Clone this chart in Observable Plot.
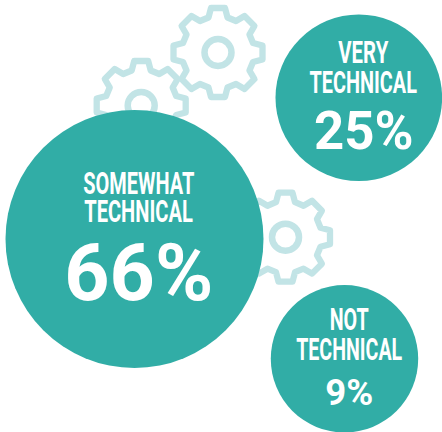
<!DOCTYPE html>
<html>
<head>
<meta charset="utf-8">
<script src="https://cdn.jsdelivr.net/npm/d3@7"></script>
<script src="https://cdn.jsdelivr.net/npm/@observablehq/plot@0.6"></script>
<style>
  html, body { margin: 0; padding: 0; background: #fff; }
  svg { display: block; }
</style>
</head>
<body>
<div id="chart"></div>
<script>
// Survey shares: how technical respondents describe themselves
const categories = ["SOMEWHAT TECHNICAL", "VERY TECHNICAL", "NOT TECHNICAL"];
const shares = [66, 25, 9];

// Bubble placement in the drawing's coordinate space, kept apart from the values
const bubbleX = [134, 358.3, 344];
const bubbleY = [238.5, 97.3, 358.3];

// Each label line: centre, cap top, font size, fitted width
const labelLines = [
  { text: "SOMEWHAT", x: 138.3, y: 171, size: 31, width: 111 },
  { text: "TECHNICAL", x: 138, y: 199.5, size: 31, width: 108.5 },
  { text: "VERY", x: 362.8, y: 40.7, size: 31, width: 50 },
  { text: "TECHNICAL", x: 362.7, y: 70.7, size: 31, width: 107.5 },
  { text: "NOT", x: 348.7, y: 307.8, size: 31, width: 39 },
  { text: "TECHNICAL", x: 348.7, y: 337, size: 31, width: 106 }
];
const percentLines = [
  { x: 138.3, y: 243, size: 80, width: 149 },
  { x: 363.3, y: 110.7, size: 53, width: 99.5 },
  { x: 348.7, y: 379, size: 36.5, width: 48 }
];

// Decorative cogs behind the bubbles
const cogCentres = [[217.5, 52], [140.7, 105], [285, 236.7]];
const TEETH = 8, TIP_R = 44.5, SHOULDER_R = 35, TIP_HALF = 7, BASE_HALF = 9.5;

function cogOutline([cx, cy], id) {
  const pts = [];
  for (let i = 0; i < TEETH; i++) {
    const a = (i / TEETH) * 2 * Math.PI;
    const ux = Math.sin(a), uy = -Math.cos(a); // radial direction of the tooth
    const vx = Math.cos(a), vy = Math.sin(a); // sideways along the tooth
    for (const [r, s] of [[SHOULDER_R, -BASE_HALF], [TIP_R, -TIP_HALF], [TIP_R, TIP_HALF], [SHOULDER_R, BASE_HALF]]) {
      pts.push({ id, x: cx + ux * r + vx * s, y: cy + uy * r + vy * s });
    }
  }
  return pts;
}

const bubbles = categories.map((name, i) => ({
  name, share: shares[i], x: bubbleX[i], y: bubbleY[i]
}));
const percents = percentLines.map((d, i) => ({ ...d, text: `${shares[i]}%` }));

const teal = "#31ada6";
const cogColor = "#c2e4e6";

const plot = Plot.plot({
  width: 442,
  height: 432,
  margin: 0,
  style: { background: "#fff" },
  x: { domain: [0, 442], range: [0, 442], axis: null },
  y: { domain: [0, 432], range: [0, 432], axis: null },
  r: { type: "linear", domain: [9, 25, 66], range: [73.7, 83.3, 129] },
  marks: [
    Plot.line(cogCentres.flatMap(cogOutline), {
      x: "x", y: "y", z: "id",
      curve: "linear-closed",
      stroke: cogColor,
      strokeWidth: 6.3,
      strokeLinejoin: "round"
    }),
    Plot.dot(cogCentres, {
      x: (d) => d[0], y: (d) => d[1],
      r: 13.5,
      stroke: cogColor,
      strokeWidth: 6.5
    }),
    Plot.dot(bubbles, { x: "x", y: "y", r: "share", fill: teal }),
    Plot.text(labelLines, {
      x: "x", y: "y", text: "text",
      fontSize: "size",
      lineAnchor: "top",
      fill: "#fff",
      fontFamily: "Roboto, sans-serif",
      fontWeight: 700
    }),
    Plot.text(percents, {
      x: "x", y: "y", text: "text",
      fontSize: "size",
      lineAnchor: "top",
      fill: "#fff",
      fontFamily: "Roboto, sans-serif",
      fontWeight: 700
    })
  ]
});

document.getElementById("chart").append(plot);

// The heading type is condensed: squeeze each line horizontally to its set width
const fitted = [...labelLines, ...percents];
function fitLines() {
  d3.select(plot).selectAll("text").each(function (_, i) {
    const base = this.dataset.base ?? (this.dataset.base = this.getAttribute("transform") ?? "");
    const natural = this.getComputedTextLength();
    this.setAttribute("transform", `${base} scale(${fitted[i].width / natural},1)`);
  });
}
fitLines();
document.fonts?.ready.then(fitLines);
</script>
</body>
</html>
